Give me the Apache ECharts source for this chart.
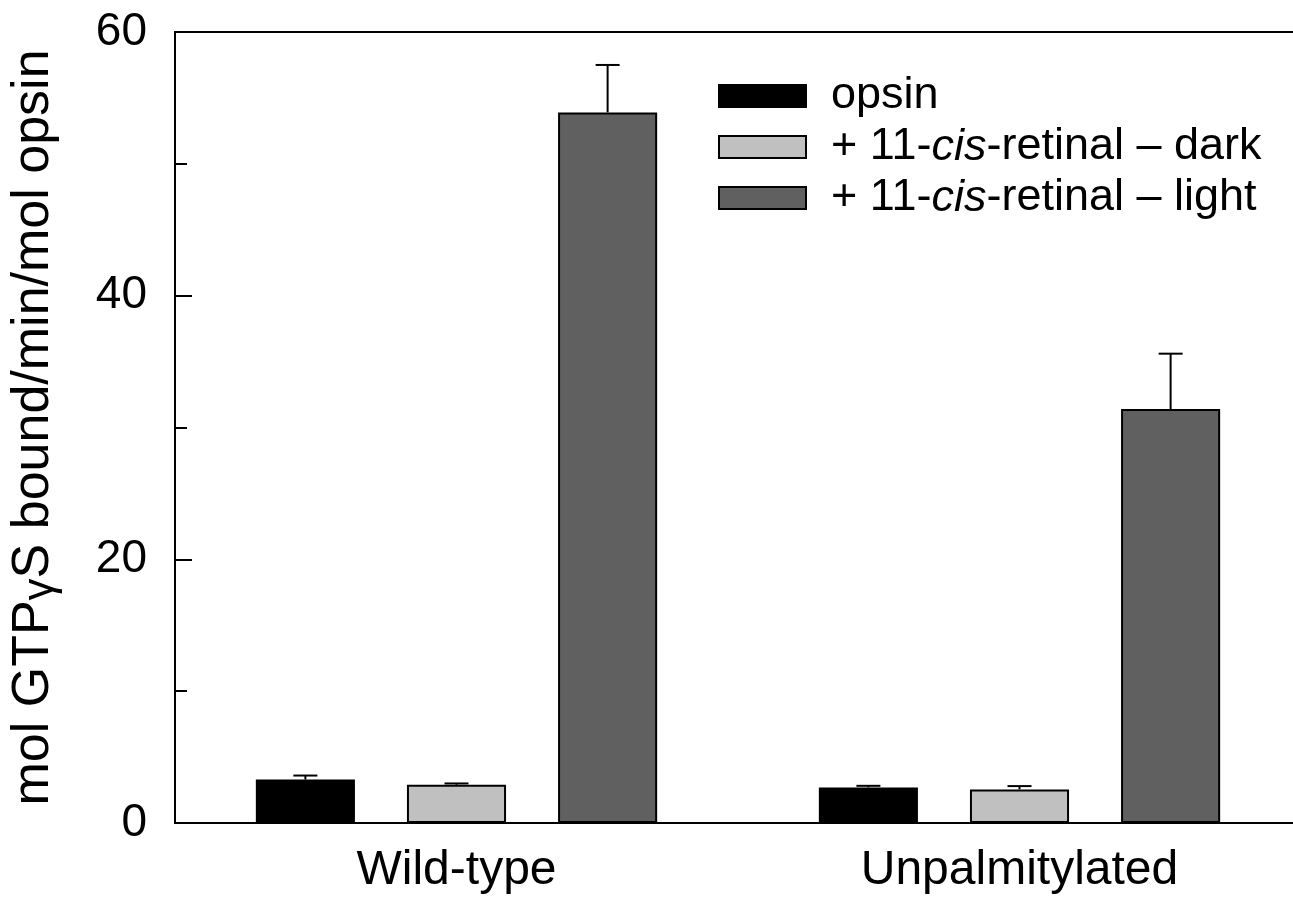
<!DOCTYPE html>
<html>
<head>
<meta charset="utf-8">
<script src="https://cdn.jsdelivr.net/npm/echarts@6/dist/echarts.min.js"></script>
<style>html,body{margin:0;padding:0;background:#fff;}#c{width:1293px;height:902px;}</style>
</head>
<body>
<div id="c"></div>
<script>
var categories = ['Wild-type', 'Unpalmitylated'];
var seriesNames = ['opsin', '+ 11-cis-retinal \u2013 dark', '+ 11-cis-retinal \u2013 light'];
var opsinVals = [3.3, 2.7];
var darkVals = [2.9, 2.55];
var lightVals = [53.9, 31.4];
var opsinErr = [0.3, 0.12];
var darkErr = [0.1, 0.25];
var lightErr = [3.6, 4.2];
var yTicks = [0, 20, 40, 60];

var FONT = '"Liberation Sans", Arial, sans-serif';
var BAR_W = 0.176, BAR_GAP = 0.525;
var values = [opsinVals, darkVals, lightVals];
var errs = [opsinErr, darkErr, lightErr];
var fills = ['#000000', '#c0c0c0', '#606060'];

var errData = [];
for (var s = 0; s < 3; s++) {
  for (var c = 0; c < categories.length; c++) {
    errData.push([c, values[s][c], values[s][c] + errs[s][c], s]);
  }
}

var series = [];
for (var s = 0; s < 3; s++) {
  series.push({
    name: seriesNames[s],
    type: 'bar',
    data: values[s],
    barWidth: (BAR_W * 100) + '%',
    barGap: (BAR_GAP * 100) + '%',
    itemStyle: { color: fills[s], borderColor: '#000', borderWidth: 2 },
    emphasis: { disabled: true },
    silent: true,
    z: 2
  });
}
series.push({
  type: 'custom',
  silent: true,
  z: 1,
  data: errData,
  renderItem: function (params, api) {
    var band = api.size([1, 0])[0];
    var idx = api.value(3);
    var off = (idx - 1) * band * BAR_W * (1 + BAR_GAP);
    var p0 = api.coord([api.value(0), api.value(1)]);
    var p1 = api.coord([api.value(0), api.value(2)]);
    var x = p0[0] + off;
    var hw = 12;
    var st = { stroke: '#000', lineWidth: 2 };
    return {
      type: 'group',
      children: [
        { type: 'line', shape: { x1: x, y1: p0[1], x2: x, y2: p1[1] }, style: st },
        { type: 'line', shape: { x1: x - hw, y1: p1[1], x2: x + hw, y2: p1[1] }, style: st }
      ]
    };
  }
});

function legendFmt(name) {
  var m = name.match(/^(.*?)cis(.*)$/);
  if (!m) return '{sp|}{n|' + name + '}';
  return '{sp|}{n|' + m[1] + '}{i|cis}{n|' + m[2] + '}';
}

var chart = echarts.init(document.getElementById('c'), null, { renderer: 'canvas' });
chart.setOption({
  animation: false,
  backgroundColor: '#fff',
  grid: { left: 175, top: 32, width: 1126, height: 791, containLabel: false, outerBoundsMode: 'none',
          show: true, borderColor: '#000', borderWidth: 2, backgroundColor: 'transparent' },
  legend: {
    data: seriesNames,
    orient: 'vertical',
    left: 713,
    top: 68,
    icon: 'rect',
    itemWidth: 87,
    itemHeight: 22,
    itemGap: 5,
    selectedMode: false,
    formatter: legendFmt,
    textStyle: {
      fontFamily: FONT, fontSize: 45, color: '#000', lineHeight: 46,
      rich: {
        sp: { width: 20, fontSize: 45, lineHeight: 46 },
        n: { fontFamily: FONT, fontSize: 45, color: '#000', lineHeight: 46 },
        i: { fontFamily: FONT, fontSize: 45, color: '#000', fontStyle: 'italic', lineHeight: 46 }
      }
    }
  },
  xAxis: {
    type: 'category',
    data: categories,
    axisLine: { lineStyle: { color: '#000', width: 2 } },
    axisTick: { show: false },
    axisLabel: { fontFamily: FONT, fontSize: 48, color: '#000', margin: 24 }
  },
  yAxis: [{
    type: 'value',
    min: 0, max: 60, interval: 20,
    name: '{n|mol GTP}{g|\u03b3}{n|S bound/min/mol opsin}',
    nameLocation: 'middle',
    nameRotate: 90,
    nameGap: 112,
    nameTextStyle: {
      rich: {
        n: { fontFamily: FONT, fontSize: 52, color: '#000' },
        g: { fontFamily: FONT, fontSize: 44, color: '#000', padding: [14, 0, 0, 0] }
      }
    },
    splitLine: { show: false },
    axisLine: { show: true, lineStyle: { color: '#000', width: 2 } },
    axisTick: { show: true, inside: true, length: 17, lineStyle: { color: '#000', width: 2 } },
    axisLabel: {
      fontFamily: FONT, fontSize: 46, color: '#000', margin: 28,
      formatter: function (v) { return yTicks.indexOf(v) >= 0 ? String(v) : ''; }
    }
  }, {
    type: 'value',
    position: 'left',
    min: 0, max: 60, interval: 10,
    splitLine: { show: false },
    axisLine: { show: false },
    axisTick: { show: true, inside: true, length: 12, lineStyle: { color: '#000', width: 2 } },
    axisLabel: { show: false }
  }],
  series: series
});
</script>
</body>
</html>
